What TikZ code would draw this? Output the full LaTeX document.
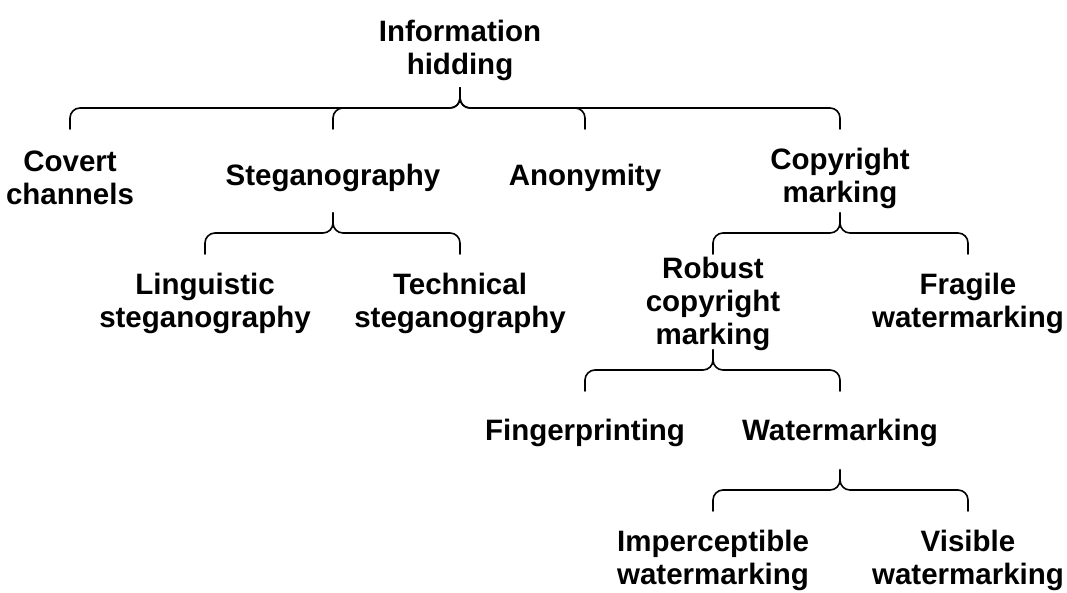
\documentclass[tikz,border=0pt]{standalone}
\usepackage{fontspec}
\setmainfont{Liberation Sans}
\newcommand{\curly}[4]{%
  \draw[brace] (#2 |- 0,#4+21) |- (#1 |- 0,#4) -- (#1 |- 0,#4-20);
  \draw[brace] (#3 |- 0,#4+21) |- (#1 |- 0,#4) -- (#1 |- 0,#4-20);}
\begin{document}
\begin{tikzpicture}[x=1pt, y=-1pt, line join=round, line cap=round]

		\tikzset{term/.style={font=\bfseries\fontsize{29.5}{33}\selectfont, align=center, inner sep=0pt},
		brace/.style={line width=1.6pt, rounded corners=10pt}}

		\useasboundingbox (0,0) rectangle (1067,592);

		\node[term] (info) at (460,50) {Information\\hidding};
		\node[term] (cov) at (70,178) {Covert\\channels};
		\node[term] (steg) at (333,178) {Steganography};
		\node[term] (anon) at (585,178) {Anonymity};
		\node[term] (copy) at (840,178) {Copyright\\marking};
		\node[term] (ling) at (205,303) {Linguistic\\steganography};
		\node[term] (tech) at (460,303) {Technical\\steganography};
		\node[term] (rob) at (713,304) {Robust\\copyright\\marking};
		\node[term] (frag) at (968,303) {Fragile\\watermarking};
		\node[term] (fing) at (585,433) {Fingerprinting};
		\node[term] (wat) at (840,433) {Watermarking};
		\node[term] (imp) at (713,560) {Imperceptible\\watermarking};
		\node[term] (vis) at (968,560) {Visible\\watermarking};

		\curly{info}{cov}{copy}{108}
		\curly{info}{steg}{anon}{108}
		\curly{steg}{ling}{tech}{233}
		\curly{copy}{rob}{frag}{233}
		\curly{rob}{fing}{wat}{370}
		\curly{wat}{imp}{vis}{490}
	\end{tikzpicture}
\end{document}
